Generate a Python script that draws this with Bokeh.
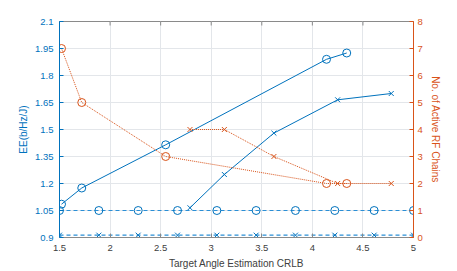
import math
from bokeh.plotting import figure
from bokeh.models import Range1d, LinearAxis, FixedTicker
from bokeh.embed import file_html
from bokeh.resources import INLINE

# ---- data ----
ee_circ_x = [1.52, 1.72, 2.55, 4.14, 4.34]
ee_circ_y = [1.085, 1.175, 1.415, 1.89, 1.925]
rf_circ_y = [7, 5, 3, 2, 2]

ee_cross_x = [2.79, 3.13, 3.62, 4.25, 4.78]
ee_cross_y = [1.065, 1.25, 1.48, 1.665, 1.70]
rf_cross_y = [4, 4, 3, 2, 2]

base_x = [1.5, 1.889, 2.278, 2.667, 3.056, 3.444, 3.833, 4.222, 4.611, 5.0]
base_circ_y = [1.05] * 10
base_cross_y = [0.913] * 10

x_ticks = [1.5, 2, 2.5, 3, 3.5, 4, 4.5, 5]
x_labels = ["1.5", "2", "2.5", "3", "3.5", "4", "4.5", "5"]
left_ticks = [0.9, 1.05, 1.2, 1.35, 1.5, 1.65, 1.8, 1.95, 2.1]
left_labels = ["0.9", "1.05", "1.2", "1.35", "1.5", "1.65", "1.8", "1.95", "2.1"]
right_ticks = [0, 1, 2, 3, 4, 5, 6, 7, 8]

BLUE = "#0072BD"
ORANGE = "#D95319"
GRAY = "#404040"
AXGRAY = "#8a8a8a"
FONT = "Liberation Sans"

p = figure(width=457, height=271, output_backend="svg", toolbar_location=None,
           x_range=Range1d(x_ticks[0], x_ticks[-1]),
           y_range=Range1d(left_ticks[0], left_ticks[-1]),
           min_border_left=59, min_border_right=44, min_border_top=21, min_border_bottom=32)
p.extra_y_ranges = {"rf": Range1d(right_ticks[0], right_ticks[-1])}
p.outline_line_color = AXGRAY
p.background_fill_color = "white"

xa = p.xaxis[0]
xa.ticker = FixedTicker(ticks=x_ticks)
xa.major_label_overrides = dict(zip(x_ticks, x_labels))
xa.axis_label = "Target Angle Estimation CRLB"
xa.axis_line_color = AXGRAY
xa.major_tick_line_color = AXGRAY
xa.major_tick_in = 4
xa.major_tick_out = 0
xa.minor_tick_line_color = None
xa.major_label_text_color = GRAY
xa.major_label_text_font = FONT
xa.major_label_text_font_size = "9.5px"
xa.major_label_standoff = 7
xa.axis_label_text_font = FONT
xa.axis_label_text_font_size = "10px"
xa.axis_label_text_font_style = "normal"
xa.axis_label_text_color = GRAY
xa.axis_label_standoff = 4

ya = p.yaxis[0]
ya.ticker = FixedTicker(ticks=left_ticks)
ya.major_label_overrides = dict(zip(left_ticks, left_labels))
ya.axis_label = "EE(b/Hz/J)"
ya.axis_line_color = BLUE
ya.major_tick_line_color = BLUE
ya.major_tick_in = 4
ya.major_tick_out = 0
ya.minor_tick_line_color = None
ya.major_label_text_color = BLUE
ya.major_label_text_font = FONT
ya.major_label_text_font_size = "9.5px"
ya.major_label_standoff = 6
ya.axis_label_text_font = FONT
ya.axis_label_text_font_size = "10px"
ya.axis_label_text_font_style = "normal"
ya.axis_label_text_color = BLUE
ya.axis_label_standoff = 3

ra = LinearAxis(y_range_name="rf", ticker=FixedTicker(ticks=right_ticks),
                axis_label="No. of Active RF Chains")
ra.axis_line_color = ORANGE
ra.major_tick_line_color = ORANGE
ra.major_tick_in = 4
ra.major_tick_out = 0
ra.minor_tick_line_color = None
ra.major_label_text_color = ORANGE
ra.major_label_text_font = FONT
ra.major_label_text_font_size = "9.5px"
ra.major_label_standoff = 4
ra.axis_label_text_font = FONT
ra.axis_label_text_font_size = "10px"
ra.axis_label_text_font_style = "normal"
ra.axis_label_text_color = ORANGE
ra.axis_label_standoff = 4
p.add_layout(ra, "right")

p.xgrid.ticker = FixedTicker(ticks=x_ticks)
p.ygrid.ticker = FixedTicker(ticks=left_ticks)
p.xgrid.grid_line_color = "#e3e6ea"
p.ygrid.grid_line_color = "#e3e6ea"

# top-edge tick marks (box on)
p.scatter(x_ticks, [left_ticks[-1]] * len(x_ticks), marker="dash", angle=math.pi / 2,
          size=8, line_color=AXGRAY, line_width=1)

# ---- series ----
p.line(ee_circ_x, ee_circ_y, line_color=BLUE, line_width=1)
p.scatter(ee_circ_x, ee_circ_y, marker="circle", size=8, fill_color=None,
          line_color=BLUE, line_width=1)
p.line(ee_cross_x, ee_cross_y, line_color=BLUE, line_width=1)
p.scatter(ee_cross_x, ee_cross_y, marker="x", size=7, line_color=BLUE, line_width=1)

p.line(base_x, base_circ_y, line_color="#2a8fd6", line_width=1.1, line_dash="4 3")
p.scatter(base_x, base_circ_y, marker="circle", size=8, fill_color=None,
          line_color=BLUE, line_width=1)
p.line(base_x, base_cross_y, line_color="#2a8fd6", line_width=1.1, line_dash="4 3")
p.scatter(base_x, base_cross_y, marker="x", size=7, line_color=BLUE, line_width=1)

p.line(ee_circ_x, rf_circ_y, line_color=ORANGE, line_width=1, line_dash="1 1",
       y_range_name="rf")
p.scatter(ee_circ_x, rf_circ_y, marker="circle", size=8, fill_color=None,
          line_color=ORANGE, line_width=1, y_range_name="rf")
p.line(ee_cross_x, rf_cross_y, line_color=ORANGE, line_width=1, line_dash="1 1",
       y_range_name="rf")
p.scatter(ee_cross_x, rf_cross_y, marker="x", size=7, line_color=ORANGE,
          line_width=1, y_range_name="rf")

open("out.html", "w").write(file_html(p, INLINE))
